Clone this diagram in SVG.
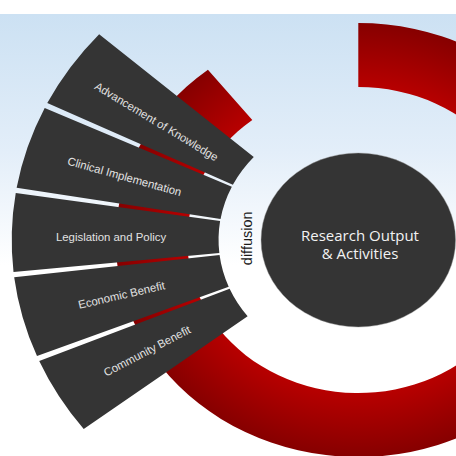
<svg xmlns="http://www.w3.org/2000/svg" width="456" height="456" viewBox="0 0 456 456">
  <defs>
    <linearGradient id="bg" x1="0" y1="14" x2="0" y2="265" gradientUnits="userSpaceOnUse">
      <stop offset="0" stop-color="#cce1f3"/>
      <stop offset="0.55" stop-color="#e3eef9"/>
      <stop offset="1" stop-color="#ffffff"/>
    </linearGradient>
    <radialGradient id="ringGrad" cx="0" cy="0" r="217" gradientUnits="userSpaceOnUse">
      <stop offset="0.70" stop-color="#b80000"/>
      <stop offset="1" stop-color="#860000"/>
    </radialGradient>
    <style>
      .seg { fill: #343434; }
      .lbl { font-family: "Liberation Sans", Arial, sans-serif; font-size: 11.4px; fill: #e2e2e2; text-anchor: middle; dominant-baseline: central; }
      .core { font-family: "Open Sans", "Liberation Sans", sans-serif; font-size: 15px; fill: #f2f2f2; text-anchor: middle; }
      .diff { font-family: "Liberation Sans", Arial, sans-serif; font-size: 14.5px; fill: #1a1a1a; text-anchor: middle; }
    </style>
  </defs>

  <rect x="0" y="0" width="456" height="456" fill="#ffffff"/>
  <rect x="0" y="14" width="456" height="442" fill="url(#bg)"/>

  <g id="connectors">
    <g id="cycle-ring" transform="translate(358.3,240) scale(1.118,1)">
      <path d="M0,-217 A217,217 0 1 1 -134.5,-170.3 L-94.8,-120.1 A153,153 0 1 0 0,-153 Z" fill="url(#ringGrad)"/>
    </g>
  </g>

  <g transform="translate(358.3,240) scale(1.118,1)">
    <g id="node-advancement">
      <path class="seg" d="M-112.2,-55.2 L-278.2,-136.9 A310,310 0 0 1 -231.8,-205.8 L-93.5,-83 A125,125 0 0 0 -112.2,-55.2 Z"/>
    </g>
    <g id="node-clinical">
      <path class="seg" d="M-123.2,-21.1 L-305.6,-52.2 A310,310 0 0 1 -280.5,-132 L-113.1,-53.2 A125,125 0 0 0 -123.2,-21.1 Z"/>
    </g>
    <g id="node-legislation">
      <path class="seg" d="M-124.3,12.9 L-308.4,31.9 A310,310 0 0 1 -306.4,-46.9 L-123.6,-18.9 A125,125 0 0 0 -124.3,12.9 Z"/>
    </g>
    <g id="node-economic">
      <path class="seg" d="M-115.9,46.8 L-287.4,116.1 A310,310 0 0 1 -307.8,37.2 L-124.1,15 A125,125 0 0 0 -115.9,46.8 Z"/>
    </g>
    <g id="node-community">
      <path class="seg" d="M-99,76.3 L-245.6,189.1 A310,310 0 0 1 -285.4,121.1 L-115.1,48.8 A125,125 0 0 0 -99,76.3 Z"/>
    </g>
    <g id="node-core-shape">
      <circle cx="0" cy="0" r="87" fill="#343434" stroke="#9a9a9a" stroke-opacity="0.5" stroke-width="0.8"/>
    </g>
  </g>

  <g id="labels-advancement"><text class="lbl" transform="translate(156.5,121.5) rotate(31)">Advancement of Knowledge</text></g>
  <g id="labels-clinical"><text class="lbl" transform="translate(124.5,176.5) rotate(15.7)">Clinical Implementation</text></g>
  <g id="labels-legislation"><text class="lbl" transform="translate(111,237)">Legislation and Policy</text></g>
  <g id="labels-economic"><text class="lbl" transform="translate(121.5,295) rotate(-13)">Economic Benefit</text></g>
  <g id="labels-community"><text class="lbl" transform="translate(147,351) rotate(-27.6)">Community Benefit</text></g>

  <g id="node-core">
    <text class="core" x="360" y="240.7">Research Output</text>
    <text class="core" x="360" y="259.3">&amp; Activities</text>
  </g>

  <g id="node-diffusion">
    <text class="diff" transform="translate(251.7,238.3) rotate(-90)">diffusion</text>
  </g>
</svg>
